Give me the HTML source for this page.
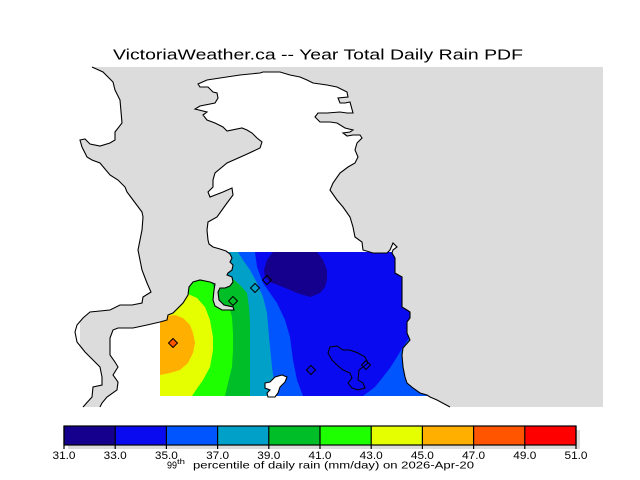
<!DOCTYPE html>
<html><head><meta charset="utf-8"><style>
html,body{margin:0;padding:0;background:#fff;}
svg{display:block;}
text{font-family:"Liberation Sans",sans-serif;fill:#000;}
</style></head><body>
<svg width="640" height="480" viewBox="0 0 640 480" xmlns="http://www.w3.org/2000/svg">
<defs>
<clipPath id="landB">
<polygon points="100,407 102,403 107,397 117,390 118,382 113,375 118,367 115,362 110,355 110,338 113,330 118,328 133,328 147,325 160,322 167,320 168,315 173,313 183,303 188,295 189,287 193,282 200,280 210,282 215,284 214,290 213,300 215,306 222,310 234,310 233,307 224,305 219,300 218,292 220,288 225,288 230,286 233,282 232,277 227,275 228,273 232,270 233,265 230,262 232,258 230,254 226,251 220,249 213,247 209,244 208,240 207,230 208,222 217,217 227,203 233,195 232,188 223,192 210,197 208,192 213,187 213,180 215,173 227,163 245,155 260,148 262,142 257,138 252,133 247,130 242,128 227,131 223,127 215,123 207,120 203,115 207,112 195,109 200,106 215,103 218,98 217,93 213,92 208,87 200,87 198,84 207,80 220,78 240,75 260,73 263,72 280,72 290,75 300,77 307,80 313,83 327,85 337,87 347,92 348,97 338,98 340,103 345,103 350,102 353,113 347,113 340,112 327,113 318,113 315,117 320,122 330,122 337,123 345,128 353,130 350,132 343,133 347,136 353,135 360,135 362,138 357,143 355,150 358,157 355,163 348,167 340,173 333,183 330,190 337,200 343,207 350,217 353,227 355,237 362,242 363,250 373,253 387,253 390,250 393,243 397,247 393,250 392,253 395,258 395,273 402,277 402,290 402,307 407,310 410,312 410,318 407,322 407,333 410,340 403,348 402,355 403,367 405,377 407,383 413,388 420,393 427,395 430,397 437,400 450,407"/>
</clipPath>
<clipPath id="drect"><rect x="160" y="252" width="280" height="144"/></clipPath>
</defs>

<!-- title -->
<text x="113" y="59.5" font-size="15" textLength="410" lengthAdjust="spacingAndGlyphs">VictoriaWeather.ca -- Year Total Daily Rain PDF</text>

<!-- map background (water) -->
<rect x="80" y="67" width="523" height="340" fill="#dcdcdc"/>

<!-- land A -->
<polygon fill="#fff" points="0,67 92,67 103,72 113,82 115,90 120,100 122,123 115,132 115,140 110,143 100,146 90,144 85,139 80,140 82,147 87,157 92,160 100,163 110,175 118,180 125,187 127,192 133,200 142,212 143,217 142,230 140,240 138,250 140,260 142,270 147,283 151,292 143,297 142,303 132,305 120,305 110,310 90,312 83,318 77,325 75,332 77,342 85,352 93,360 100,367 102,377 102,385 93,387 92,397 83,407 0,407"/>

<!-- land B -->
<rect x="0" y="0" width="640" height="480" fill="#fff" clip-path="url(#landB)"/>

<!-- data -->
<g clip-path="url(#landB)">
<g clip-path="url(#drect)">
<rect x="160" y="252" width="280" height="144" fill="#0a0af0"/>
<polygon fill="#14008c" points="273,252 267,260 264,270 265,277 270,282 283,287 297,293 310,297 320,293 325,287 327,280 327,270 323,260 317,252"/>
<polygon fill="#0055ff" points="160,252 255,252 257,267 263,283 277,303 285,320 290,337 293,360 297,380 303,396 160,396"/>
<polygon fill="#0055ff" points="355,396 363,396 375,387 383,377 390,368 397,357 403,347 409,338 416,325 440,290 440,396"/>
<polygon fill="#00a0c8" points="160,252 238,252 243,260 250,270 257,283 263,297 267,313 269,337 272,367 276,396 160,396"/>
<polygon fill="#00be28" points="160,252 222,252 224,268 228,275 233,279 240,285 247,293 249,307 250,323 250,396 160,396"/>
<polygon fill="#1eff00" points="160,252 200,252 210,280 215,290 216,300 222,306 230,310 232,317 233,333 233,350 232,367 228,383 225,396 160,396"/>
<polygon fill="#e6ff00" points="160,280 180,290 188,294 197,298 205,307 210,320 213,337 213,350 210,367 203,380 196,390 192,396 160,396"/>
<polygon fill="#ffaf00" points="160,318 168,316 175,315 183,318 190,325 193,333 195,343 193,353 188,363 180,370 170,373 160,375"/>
</g>
</g>

<!-- small white island shape -->
<polygon fill="#fff" stroke="#000" stroke-width="1.1" points="265,383 270,382 275,377 282,375 287,377 285,382 280,387 278,393 275,397 268,397 267,393 270,390 265,388"/>
<!-- lake outline -->
<polygon fill="#0a0af0" stroke="#000" stroke-width="1" points="330,347 337,346 343,350 350,350 358,353 365,357 368,363 363,367 359,370 358,380 363,383 365,388 358,390 352,388 348,383 352,378 350,373 343,370 337,365 332,360 328,353"/>

<!-- coastlines -->
<polyline fill="none" stroke="#000" stroke-width="1.1" points="92,67 103,72 113,82 115,90 120,100 122,123 115,132 115,140 110,143 100,146 90,144 85,139 80,140 82,147 87,157 92,160 100,163 110,175 118,180 125,187 127,192 133,200 142,212 143,217 142,230 140,240 138,250 140,260 142,270 147,283 151,292 143,297 142,303 132,305 120,305 110,310 90,312 83,318 77,325 75,332 77,342 85,352 93,360 100,367 102,377 102,385 93,387 92,397 83,407"/>
<polyline fill="none" stroke="#000" stroke-width="1.1" points="100,407 102,403 107,397 117,390 118,382 113,375 118,367 115,362 110,355 110,338 113,330 118,328 133,328 147,325 160,322 167,320 168,315 173,313 183,303 188,295 189,287 193,282 200,280 210,282 215,284 214,290 213,300 215,306 222,310 234,310 233,307 224,305 219,300 218,292 220,288 225,288 230,286 233,282 232,277 227,275 228,273 232,270 233,265 230,262 232,258 230,254 226,251 220,249 213,247 209,244 208,240 207,230 208,222 217,217 227,203 233,195 232,188 223,192 210,197 208,192 213,187 213,180 215,173 227,163 245,155 260,148 262,142 257,138 252,133 247,130 242,128 227,131 223,127 215,123 207,120 203,115 207,112 195,109 200,106 215,103 218,98 217,93 213,92 208,87 200,87 198,84 207,80 220,78 240,75 260,73 263,72 280,72 290,75 300,77 307,80 313,83 327,85 337,87 347,92 348,97 338,98 340,103 345,103 350,102 353,113 347,113 340,112 327,113 318,113 315,117 320,122 330,122 337,123 345,128 353,130 350,132 343,133 347,136 353,135 360,135 362,138 357,143 355,150 358,157 355,163 348,167 340,173 333,183 330,190 337,200 343,207 350,217 353,227 355,237 362,242 363,250 373,253 387,253 390,250 393,243 397,247 393,250 392,253 395,258 395,273 402,277 402,290 402,307 407,310 410,312 410,318 407,322 407,333 410,340 403,348 402,355 403,367 405,377 407,383 413,388 420,393 427,395 430,397 437,400 450,407"/>

<!-- stations -->
<g stroke="#000" stroke-width="1">
<polygon fill="#ff5500" points="173,338.5 177.5,343 173,347.5 168.5,343"/>
<polygon fill="none" points="233,296.5 237.5,301 233,305.5 228.5,301"/>
<polygon fill="none" points="255,283.5 259.5,288 255,292.5 250.5,288"/>
<polygon fill="none" points="267,275.5 271.5,280 267,284.5 262.5,280"/>
<polygon fill="none" points="311,365.5 315.5,370 311,374.5 306.5,370"/>
<polygon fill="none" points="366,360.5 370.5,365 366,369.5 361.5,365"/>
</g>

<!-- colorbar -->
<rect x="68" y="430" width="512" height="19" fill="#dcdcdc"/>
<rect x="64" y="426" width="51.2" height="19" fill="#14008c"/>
<rect x="115.2" y="426" width="51.2" height="19" fill="#0a0af0"/>
<rect x="166.4" y="426" width="51.2" height="19" fill="#0055ff"/>
<rect x="217.6" y="426" width="51.2" height="19" fill="#00a0c8"/>
<rect x="268.8" y="426" width="51.2" height="19" fill="#00be28"/>
<rect x="320" y="426" width="51.2" height="19" fill="#1eff00"/>
<rect x="371.2" y="426" width="51.2" height="19" fill="#e6ff00"/>
<rect x="422.4" y="426" width="51.2" height="19" fill="#ffaf00"/>
<rect x="473.6" y="426" width="51.2" height="19" fill="#ff5500"/>
<rect x="524.8" y="426" width="51.2" height="19" fill="#ff0000"/>
<g stroke="#000" stroke-width="1.2" fill="none">
<rect x="64" y="426" width="512" height="19"/>
<path d="M64,426V449 M115.2,426V449 M166.4,426V449 M217.6,426V449 M268.8,426V449 M320,426V449 M371.2,426V449 M422.4,426V449 M473.6,426V449 M524.8,426V449 M576,426V449"/>
</g>
<g font-size="11" text-anchor="middle">
<text x="64" y="459" textLength="23" lengthAdjust="spacingAndGlyphs">31.0</text>
<text x="115.2" y="459" textLength="23" lengthAdjust="spacingAndGlyphs">33.0</text>
<text x="166.4" y="459" textLength="23" lengthAdjust="spacingAndGlyphs">35.0</text>
<text x="217.6" y="459" textLength="23" lengthAdjust="spacingAndGlyphs">37.0</text>
<text x="268.8" y="459" textLength="23" lengthAdjust="spacingAndGlyphs">39.0</text>
<text x="320" y="459" textLength="23" lengthAdjust="spacingAndGlyphs">41.0</text>
<text x="371.2" y="459" textLength="23" lengthAdjust="spacingAndGlyphs">43.0</text>
<text x="422.4" y="459" textLength="23" lengthAdjust="spacingAndGlyphs">45.0</text>
<text x="473.6" y="459" textLength="23" lengthAdjust="spacingAndGlyphs">47.0</text>
<text x="524.8" y="459" textLength="23" lengthAdjust="spacingAndGlyphs">49.0</text>
<text x="576" y="459" textLength="23" lengthAdjust="spacingAndGlyphs">51.0</text>
</g>
<text x="167" y="468.5" font-size="10.5" textLength="10" lengthAdjust="spacingAndGlyphs">99</text>
<text x="177" y="464" font-size="7" textLength="8" lengthAdjust="spacingAndGlyphs">th</text>
<text x="193" y="468.5" font-size="10.5" textLength="281" lengthAdjust="spacingAndGlyphs">percentile of daily rain (mm/day) on 2026-Apr-20</text>
</svg>
</body></html>
